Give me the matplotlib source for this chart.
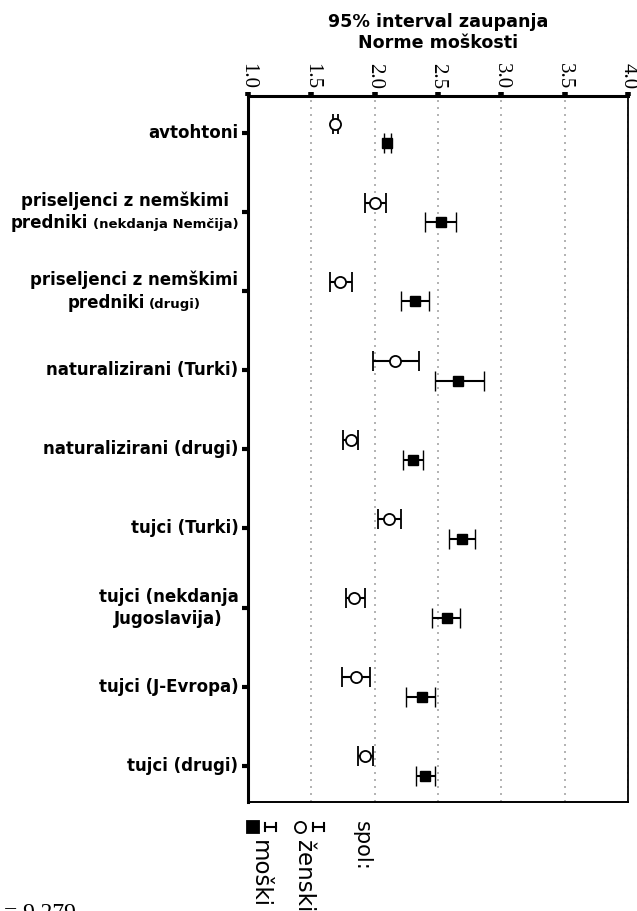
import matplotlib
matplotlib.use("Agg")
import matplotlib.pyplot as plt
import numpy as np
from matplotlib.offsetbox import TextArea, HPacker, VPacker, AnnotationBbox
from matplotlib.lines import Line2D

# ---------------- data ----------------
cat_line1 = ["avtohtoni", "priseljenci z nemškimi", "priseljenci z nemškimi",
             "naturalizirani (Turki)", "naturalizirani (drugi)", "tujci (Turki)",
             "tujci (nekdanja", "tujci (J-Evropa)", "tujci (drugi)"]
cat_line2 = ["", "predniki", "predniki", "", "", "", "Jugoslavija)", "", ""]
cat_note = ["", "(nekdanja Nemčija)", "(drugi)", "", "", "", "", "", ""]

female_mean = [1.69, 2.00, 1.73, 2.16, 1.81, 2.11, 1.84, 1.85, 1.92]
female_lo = [1.67, 1.92, 1.65, 1.99, 1.75, 2.03, 1.77, 1.74, 1.87]
female_hi = [1.71, 2.09, 1.82, 2.35, 1.87, 2.21, 1.92, 1.96, 1.99]

male_mean = [2.10, 2.52, 2.32, 2.66, 2.30, 2.69, 2.57, 2.37, 2.40]
male_lo = [2.07, 2.40, 2.21, 2.48, 2.22, 2.59, 2.45, 2.25, 2.33]
male_hi = [2.13, 2.64, 2.43, 2.86, 2.38, 2.79, 2.67, 2.48, 2.48]

x_ticks = [1.0, 1.5, 2.0, 2.5, 3.0, 3.5, 4.0]
x_ticklabels = ["1.0", "1.5", "2.0", "2.5", "3.0", "3.5", "4.0"]

title_text = "95% interval zaupanja\nNorme moškosti"
legend_title = "spol:"
legend_labels = ["ženski", "moški"]
n_text = "= 9.279"

# ---------------- figure ----------------
W, H = 637, 911
fig = plt.figure(figsize=(W / 100, H / 100), dpi=100)


def fx(x):
    return x / W


def fy(y):
    return 1 - y / H


ax = fig.add_axes([fx(248), fy(802), fx(628) - fx(248), fy(96) - fy(802)])

ypos = np.arange(len(cat_line1))
fm = np.array(female_mean)
mm = np.array(male_mean)
ax.errorbar(fm, ypos - 0.12,
            xerr=[fm - np.array(female_lo), np.array(female_hi) - fm],
            fmt='o', mfc='white', mec='black', ms=8, mew=1.3,
            ecolor='black', elinewidth=1.5, capsize=7, capthick=1.8, zorder=3)
ax.errorbar(mm, ypos + 0.13,
            xerr=[mm - np.array(male_lo), np.array(male_hi) - mm],
            fmt='s', mfc='black', mec='black', ms=7, mew=1.0,
            ecolor='black', elinewidth=1.5, capsize=7, capthick=1.8, zorder=3)

ax.set_xlim(1.0, 4.0)
ax.set_ylim(8.458, -0.468)

ax.xaxis.tick_top()
ax.set_xticks(x_ticks)
ax.set_xticklabels(x_ticklabels, family='Liberation Serif', fontsize=15)
ax.tick_params(axis='x', length=3, width=4, pad=2, labelrotation=270, color='black')
ax.set_yticks(ypos)
ax.set_yticklabels([])
ax.tick_params(axis='y', length=4, width=3, color='black')

ax.grid(axis='x', color='#a5a5a5', linestyle=(0, (1.2, 3)), linewidth=1.2, zorder=0)
ax.set_axisbelow(True)

ax.spines['left'].set_linewidth(2.2)
ax.spines['top'].set_linewidth(2.2)
ax.spines['bottom'].set_linewidth(1.4)
ax.spines['right'].set_linewidth(1.3)

# category labels
bold12 = dict(fontsize=12, fontweight='bold', family='DejaVu Sans', color='black')
bold_small = dict(fontsize=9.5, fontweight='bold', family='DejaVu Sans', color='black')
for i in range(len(cat_line1)):
    children = [TextArea(cat_line1[i], textprops=bold12)]
    if cat_line2[i]:
        segs = [TextArea(cat_line2[i], textprops=bold12)]
        if cat_note[i]:
            segs.append(TextArea(cat_note[i], textprops=bold_small))
        children.append(HPacker(children=segs, align='baseline', pad=0, sep=3))
    box = VPacker(children=children, align='center', pad=0, sep=3)
    ab = AnnotationBbox(box, (0, ypos[i]), xycoords=ax.get_yaxis_transform(),
                        xybox=(-7, 0), boxcoords='offset points',
                        box_alignment=(1, 0.5), frameon=False, pad=0,
                        annotation_clip=False)
    ax.add_artist(ab)

# title
fig.text(fx(438), fy(13), title_text, ha='center', va='top', fontsize=12.6,
         fontweight='bold', family='DejaVu Sans', linespacing=1.2)

# rotated legend
fig.text(fx(362), fy(821), legend_title, rotation=270, ha='center', va='top',
         fontsize=15, family='DejaVu Sans')
legend_x = [303, 259]
marker_x = [300, 253]
glyph_x = [313, 265]
for lab, tx, mx, gx, mk, mfc in zip(legend_labels, legend_x, marker_x, glyph_x,
                                      ['o', 's'], ['white', 'black']):
    fig.add_artist(Line2D([fx(mx)], [fy(827)], marker=mk, ms=8, mfc=mfc, mec='black',
                          mew=1.3, transform=fig.transFigure))
    fig.add_artist(Line2D([fx(gx), fx(gx + 11)], [fy(827), fy(827)], color='black',
                          lw=1.5, transform=fig.transFigure))
    for cx in (gx, gx + 11):
        fig.add_artist(Line2D([fx(cx), fx(cx)], [fy(823), fy(831)], color='black',
                              lw=1.5, transform=fig.transFigure))
    fig.text(fx(tx), fy(840), lab, rotation=270, ha='center', va='top',
             fontsize=16.5, family='DejaVu Sans')

fig.text(fx(4), fy(919), n_text, ha='left', va='baseline', fontsize=17,
         family='Liberation Serif')

fig.savefig("out.png", dpi=100)
